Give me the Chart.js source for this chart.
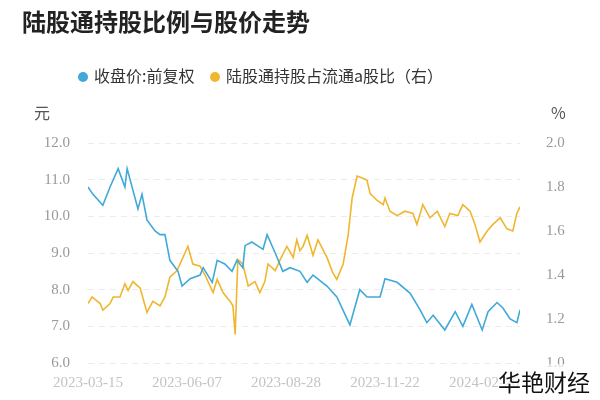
<!DOCTYPE html>
<html>
<head>
<meta charset="utf-8">
<script src="https://cdn.jsdelivr.net/npm/chart.js@4"></script>
<style>
  body { margin: 0; background: #fff; font-family: "Noto Sans CJK SC", sans-serif; }
  #wrap { position: relative; width: 600px; height: 400px; }
  canvas { position: absolute; left: 0; top: 0; }
  .t { position: absolute; white-space: nowrap; }
</style>
</head>
<body>
<div id="wrap">
  <canvas id="c" width="600" height="400"></canvas>
  <div class="t" style="left:22px;top:3px;font-size:24px;font-weight:bold;color:#222;">陆股通持股比例与股价走势</div>
  <div class="t" style="left:78px;top:63px;font-size:16px;color:#333;">
    <span style="display:inline-block;width:10px;height:10px;border-radius:5px;background:#40a9d8;margin-right:6px;"></span>收盘价:前复权
    <span style="display:inline-block;width:10px;height:10px;border-radius:5px;background:#efb72f;margin:0 6px 0 12px;"></span>陆股通持股占流通a股比（右）
  </div>
  <div class="t" style="left:34px;top:100px;font-size:16px;color:#555;">元</div>
  <div class="t" style="left:551px;top:100px;font-size:16px;color:#555;">%</div>
  <div class="t" style="left:498px;top:364px;font-size:23px;color:#111;background:rgba(255,255,255,0.6);">华艳财经</div>
</div>
<script>
const tickLabels = ['2023-03-15', '2023-06-07', '2023-08-28', '2023-11-22', '2024-02-26'];

const priceX = [0, 1.1, 3.3, 4.9, 6.7, 8.2, 8.7, 11.1, 12, 13.1, 14.9, 16, 17.1, 18.2, 20, 20.9, 22.7, 24.9, 25.6, 27.6, 28.7, 30.4, 32, 33.1, 34.4, 34.9, 36.4, 38.9, 39.8, 41.6, 43.3, 44.9, 47.1, 48.7, 50, 53.1, 55.3, 58.2, 60.4, 62, 64.9, 66, 68.7, 71.6, 73.8, 75.3, 76.7, 79.3, 81.6, 83.3, 85.3, 87.6, 88.9, 90.9, 92.2, 93.8, 95.3, 96];
const price = [10.8, 10.6, 10.3, 10.8, 11.3, 10.8, 11.3, 10.2, 10.6, 9.9, 9.6, 9.5, 9.5, 8.8, 8.5, 8.1, 8.3, 8.4, 8.6, 8.2, 8.8, 8.7, 8.5, 8.8, 8.6, 9.2, 9.3, 9.1, 9.5, 9.0, 8.5, 8.6, 8.5, 8.2, 8.4, 8.1, 7.8, 7.04, 8.0, 7.8, 7.8, 8.3, 8.2, 7.9, 7.45, 7.1, 7.3, 6.9, 7.4, 7.0, 7.6, 6.9, 7.4, 7.65, 7.5, 7.2, 7.1, 7.45];

const ratioX = [0, 0.9, 2.7, 3.3, 4.9, 5.6, 7.1, 8.2, 8.9, 10, 11.6, 13.1, 14.4, 16, 17.1, 18.2, 19.8, 22.2, 23.3, 24.9, 26, 27.8, 28.7, 30, 31.6, 32.2, 32.7, 33.3, 34.4, 35.6, 37.1, 38.2, 39.3, 40, 41.6, 42.7, 44.2, 45.6, 46.4, 47.1, 47.8, 48.7, 50, 51.1, 53.1, 54.4, 55.3, 56.7, 57.8, 58.7, 59.8, 61.1, 62, 62.7, 64.2, 65.6, 66, 67.1, 68.7, 70.4, 72.2, 73.1, 74.4, 76, 77.6, 79.3, 80.4, 82.2, 83.3, 84.9, 86, 87.1, 88.7, 90, 91.6, 93.1, 94.4, 95.3, 96];
const ratio = [1.27, 1.30, 1.27, 1.24, 1.27, 1.30, 1.30, 1.36, 1.33, 1.37, 1.34, 1.23, 1.28, 1.26, 1.30, 1.39, 1.42, 1.53, 1.45, 1.44, 1.40, 1.32, 1.38, 1.32, 1.28, 1.26, 1.13, 1.47, 1.45, 1.35, 1.37, 1.32, 1.37, 1.45, 1.42, 1.47, 1.53, 1.48, 1.56, 1.51, 1.53, 1.58, 1.49, 1.56, 1.48, 1.41, 1.38, 1.45, 1.58, 1.75, 1.85, 1.84, 1.83, 1.77, 1.74, 1.72, 1.75, 1.69, 1.67, 1.69, 1.68, 1.63, 1.72, 1.66, 1.69, 1.62, 1.68, 1.67, 1.72, 1.69, 1.63, 1.55, 1.60, 1.63, 1.66, 1.61, 1.60, 1.68, 1.71];

const tickFont = { family: 'Liberation Serif', size: 15 };

new Chart(document.getElementById('c'), {
    type: 'line',
    data: {
        datasets: [{
            data: priceX.map((x, i) => ({ x: x, y: price[i] })),
            borderColor: '#40a9d8',
            borderWidth: 1.6,
            pointRadius: 0,
            yAxisID: 'y'
        }, {
            data: ratioX.map((x, i) => ({ x: x, y: ratio[i] })),
            borderColor: '#efb72f',
            borderWidth: 1.6,
            pointRadius: 0,
            yAxisID: 'y1'
        }]
    },
    options: {
        responsive: false,
        animation: false,
        layout: { padding: { top: 143, left: 0, right: 0, bottom: 0 } },
        plugins: { legend: { display: false }, tooltip: { enabled: false } },
        scales: {
            x: {
                type: 'linear',
                min: 0,
                max: 96,
                grid: { display: false },
                border: { display: false },
                afterBuildTicks: axis => { axis.ticks = tickLabels.map((_, i) => ({ value: i * 22 })); },
                ticks: {
                    autoSkip: false,
                    maxRotation: 0,
                    color: '#c4c4c4',
                    font: tickFont,
                    callback: (v) => tickLabels[Math.round(v / 22)]
                },
                afterFit: a => { a.height = 37; }
            },
            y: {
                position: 'left',
                min: 6, max: 12,
                ticks: { stepSize: 1, color: '#999', font: tickFont, padding: 18, callback: v => v.toFixed(1) },
                grid: { color: '#ececec', drawTicks: false },
                border: { display: false, dash: [6, 5] },
                afterFit: a => { a.width = 88; }
            },
            y1: {
                position: 'right',
                min: 1, max: 2,
                ticks: { stepSize: 0.2, color: '#999', font: tickFont, padding: 18, callback: v => v.toFixed(1) },
                grid: { display: false },
                border: { display: false },
                afterFit: a => { a.width = 80; }
            }
        }
    }
});
</script>
</body>
</html>
